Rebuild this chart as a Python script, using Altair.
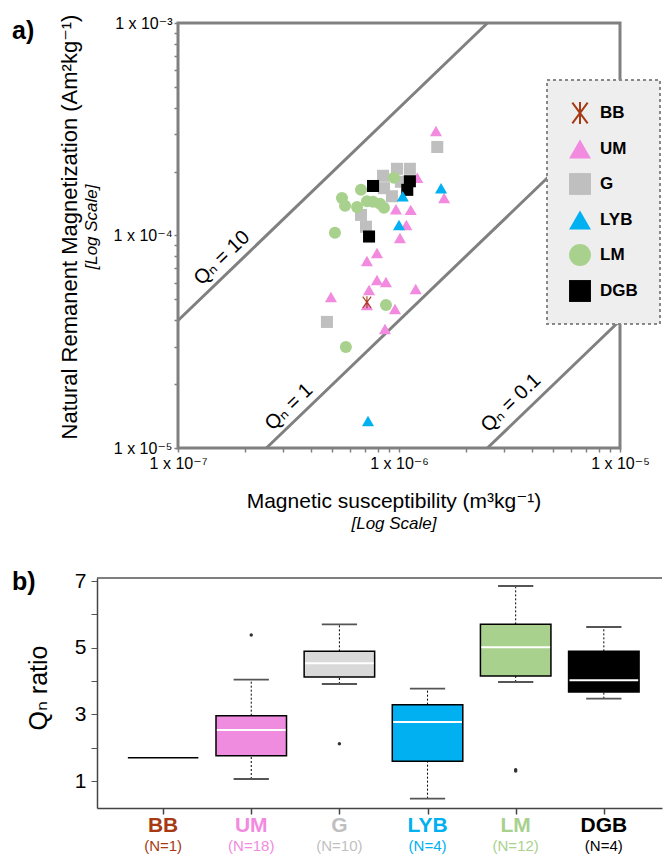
import altair as alt
import pandas as pd

FONT = "Liberation Sans, Arial, DejaVu Sans, sans-serif"
LINE_GRAY = "#808080"

# ---------------- Panel a data ----------------
groups = ["BB", "UM", "G", "LYB", "LM", "DGB"]
scatter_colors = ["#A63A14", "#F28AE0", "#BFBFBF", "#00B0F0", "#A9D18E", "#000000"]
ASTERISK = ("M-0.09,-1L0.09,-1L0.09,1L-0.09,1Z"
            "M-0.7725,-0.8966L-0.6275,-1.0034L0.7725,0.8966L0.6275,1.0034Z"
            "M-0.6275,1.0034L-0.7725,0.8966L0.6275,-1.0034L0.7725,-0.8966Z")
shapes = [ASTERISK, "triangle-up", "square", "triangle-up", "circle", "square"]

um_k = [1.47e-6, 1.21e-6, 1.60e-6, 9.69e-7, 1.13e-6, 1.08e-6, 1.01e-6, 7.95e-7, 7.16e-7,
        7.95e-7, 8.73e-7, 7.32e-7, 4.92e-7, 1.19e-6, 9.59e-7, 8.64e-7, 7.16e-7]
um_nrm = [3.10e-4, 1.87e-4, 1.50e-4, 1.33e-4, 1.32e-4, 1.12e-4, 9.73e-5, 8.27e-5, 7.59e-5,
          6.18e-5, 6.04e-5, 5.54e-5, 5.14e-5, 5.60e-5, 4.51e-5, 3.63e-5, 4.71e-5]
g_k = [1.49e-6, 9.79e-7, 1.12e-6, 8.47e-7, 8.55e-7, 1.02e-6, 9.29e-7, 6.73e-7, 7.09e-7, 4.72e-7]
g_nrm = [2.61e-4, 2.06e-4, 2.06e-4, 1.91e-4, 1.67e-4, 1.79e-4, 1.53e-4, 1.25e-4, 1.10e-4, 3.92e-5]
dgb_k = [7.63e-7, 1.12e-6, 1.09e-6, 7.32e-7]
dgb_nrm = [1.71e-4, 1.80e-4, 1.64e-4, 9.89e-5]
lm_k = [9.49e-7, 6.73e-7, 5.52e-7, 5.70e-7, 6.46e-7, 7.16e-7, 7.63e-7, 8.20e-7, 8.55e-7,
        5.13e-7, 8.73e-7, 5.75e-7]
lm_nrm = [1.87e-4, 1.64e-4, 1.50e-4, 1.38e-4, 1.36e-4, 1.45e-4, 1.44e-4, 1.41e-4, 1.35e-4,
          1.03e-4, 4.71e-5, 2.99e-5]
lyb_k = [1.04e-6, 1.55e-6, 1.00e-6, 7.24e-7]
lyb_nrm = [1.53e-4, 1.67e-4, 1.12e-4, 1.34e-5]
bb_k = [7.16e-7]
bb_nrm = [4.85e-5]

# Qn reference lines
q_values = [10, 1, 0.1]
q_texts = ["Q\u2099 = 10", "Q\u2099 = 1", "Q\u2099 = 0.1"]
q_text_k = [1.58e-7, 3.18e-7, 3.21e-6]
q_text_nrm = [7.84e-5, 1.56e-5, 1.63e-5]
H_FIELD = 39.8  # A/m

k_limits = [1e-7, 1e-5]
nrm_limits = [1e-5, 1e-3]
x_decades = [1e-7, 1e-6, 1e-5]
x_decade_labels = ["1 x 10\u207b\u2077", "1 x 10\u207b\u2076", "1 x 10\u207b\u2075"]
y_decades = [1e-5, 1e-4, 1e-3]
y_decade_labels = ["1 x 10\u207b\u2075", "1 x 10\u207b\u2074", "1 x 10\u207b\u00b3"]

# ---------------- Panel b data ----------------
box_groups = ["BB", "UM", "G", "LYB", "LM", "DGB"]
n_counts = [1, 18, 10, 4, 12, 4]
q1 = [1.70, 1.76, 4.12, 1.59, 4.15, 3.67]
med = [1.70, 2.53, 4.53, 2.77, 5.01, 4.02]
q3 = [1.70, 2.96, 4.89, 3.29, 5.70, 4.89]
wlo = [1.70, 1.06, 3.91, 0.47, 3.97, 3.47]
whi = [1.70, 4.04, 5.70, 3.77, 6.85, 5.62]
out_group = ["UM", "G", "LM", "LM"]
out_val = [5.38, 2.12, 1.30, 1.34]
box_fill = ["#8B4513", "#F08CE0", "#D9D9D9", "#00B0F0", "#A9D18E", "#000000"]
label_colors = ["#8B4513", "#F08CE0", "#A6A6A6", "#00B0F0", "#A9D18E", "#000000"]
y_ticks_b = [1, 2, 3, 4, 5, 6, 7]

# ---------------- layout (pixels) ----------------
W_A, H_A = 558, 425
DEC_PX = 221.0
EXTRA_L, EXTRA_R = 81, 35
W_B, H_B = 565, 230


def decade_expr(decades, labels):
    e = "''"
    for d, l in zip(decades[::-1], labels[::-1]):
        e = f"(abs(datum.value/{d!r} - 1) < 1e-6 ? '{l}' : {e})"
    return e


def txt(text, x, y, size, **kw):
    return alt.Chart(pd.DataFrame({"t": [text]})).mark_text(
        font=FONT, fontSize=size, color="black", **kw
    ).encode(x=alt.value(x), y=alt.value(y), text="t:N")


# ---------------- Panel a ----------------
x_dom = [10 ** (-7 - EXTRA_L / DEC_PX), 10 ** (-5 + EXTRA_R / DEC_PX)]
xs_a = alt.Scale(type="log", domain=x_dom, nice=False)
ys_a = alt.Scale(type="log", domain=nrm_limits, nice=False)

x_ticks = [m * 10.0 ** e for e in (-7, -6) for m in range(1, 10)] + [1e-5]
y_ticks = [m * 10.0 ** e for e in (-5, -4) for m in range(1, 10)] + [1e-3]

x_axis_a = alt.Axis(values=x_ticks, labelExpr=decade_expr(x_decades, x_decade_labels),
                    title=None, domain=False, grid=False, tickColor=LINE_GRAY, tickWidth=1.5,
                    tickSize=4, labelFont=FONT, labelFontSize=16, labelColor="black",
                    labelPadding=3, labelOverlap=False, labelFlush=False, labelBound=False)
y_axis_a = alt.Axis(values=y_ticks, labelExpr=decade_expr(y_decades, y_decade_labels),
                    title=None, domain=False, grid=False, tickColor=LINE_GRAY, tickWidth=1.5,
                    tickSize=4, labelFont=FONT, labelFontSize=16, labelColor="black",
                    labelPadding=2, labelOverlap=False, labelFlush=False, labelBound=False,
                    offset=-EXTRA_L)


def XA(f):
    return alt.X(f, type="quantitative", scale=xs_a, axis=x_axis_a)


def YA(f):
    return alt.Y(f, type="quantitative", scale=ys_a, axis=y_axis_a)


frame_df = pd.DataFrame({"x": [k_limits[0]], "x2": [k_limits[1]],
                         "y": [nrm_limits[0]], "y2": [nrm_limits[1]]})
frame = alt.Chart(frame_df).mark_rect(fillOpacity=0, stroke=LINE_GRAY, strokeWidth=3).encode(
    x=XA("x"), x2="x2", y=YA("y"), y2="y2")

line_rows = []
for q in q_values:
    k0 = max(k_limits[0], nrm_limits[0] / (q * H_FIELD))
    k1 = min(k_limits[1], nrm_limits[1] / (q * H_FIELD))
    line_rows.append({"q": str(q), "x": k0, "y": q * H_FIELD * k0})
    line_rows.append({"q": str(q), "x": k1, "y": q * H_FIELD * k1})
qlines = alt.Chart(pd.DataFrame(line_rows)).mark_line(color=LINE_GRAY, strokeWidth=3).encode(
    x=XA("x"), y=YA("y"), detail="q:N")

qtext = alt.Chart(pd.DataFrame({"t": q_texts, "x": q_text_k, "y": q_text_nrm})).mark_text(
    font=FONT, fontSize=20, angle=316, color="black").encode(x=XA("x"), y=YA("y"), text="t:N")

order = [("UM", um_k, um_nrm), ("G", g_k, g_nrm), ("DGB", dgb_k, dgb_nrm),
         ("LM", lm_k, lm_nrm), ("LYB", lyb_k, lyb_nrm), ("BB", bb_k, bb_nrm)]
pts_rows = []
for g, ks, ns in order:
    for k, n in zip(ks, ns):
        pts_rows.append({"group": g, "x": k, "y": n})
pts_df = pd.DataFrame(pts_rows)

leg = alt.Legend(title=None, orient="none", legendX=450, legendY=57, fillColor="#EEEEEE",
                 strokeColor="#888888", padding=22, symbolSize=480, labelFont=FONT,
                 labelFontSize=17, labelFontWeight="bold", labelColor="black", labelOffset=9,
                 rowPadding=14, symbolStrokeWidth=0, symbolOpacity=1)
points = alt.Chart(pts_df).mark_point(filled=True, size=145, opacity=1, strokeWidth=0).encode(
    x=XA("x"), y=YA("y"),
    color=alt.Color("group:N", scale=alt.Scale(domain=groups, range=scatter_colors), legend=leg),
    shape=alt.Shape("group:N", scale=alt.Scale(domain=groups, range=shapes), legend=leg),
)

chart_a = alt.layer(
    frame, qlines, qtext, points,
    txt("a)", -85, 8, 25, fontWeight="bold", align="left"),
    txt("Natural Remanent Magnetization (Am\u00b2kg\u207b\u00b9)", -27, 204, 22, angle=270),
    txt("[Log Scale]", -5, 204, 17, angle=270, fontStyle="italic"),
    txt("Magnetic susceptibility (m\u00b3kg\u207b\u00b9)", 297, 479, 21),
    txt("[Log Scale]", 297, 501, 17, fontStyle="italic"),
).properties(width=W_A, height=H_A)

# ---------------- Panel b ----------------
idx = {g: i for i, g in enumerate(box_groups)}
box_df = pd.DataFrame({"group": box_groups, "idx": list(range(len(box_groups))),
                       "q1": q1, "med": med, "q3": q3, "wlo": wlo, "whi": whi,
                       "n": [f"(N={n})" for n in n_counts]})
box_df["lo"] = box_df["idx"] - 0.4
box_df["hi"] = box_df["idx"] + 0.4
box_df["mlo"] = box_df["idx"] - 0.39
box_df["mhi"] = box_df["idx"] + 0.39
box_df["clo"] = box_df["idx"] - 0.2
box_df["chi"] = box_df["idx"] + 0.2
spread = box_df[box_df["q3"] > box_df["q1"]]

wh_rows, cap_rows = [], []
for _, r in spread.iterrows():
    wh_rows.append({"idx": r["idx"], "a": r["q3"], "b": r["whi"]})
    wh_rows.append({"idx": r["idx"], "a": r["wlo"], "b": r["q1"]})
    cap_rows.append({"clo": r["clo"], "chi": r["chi"], "v": r["whi"]})
    cap_rows.append({"clo": r["clo"], "chi": r["chi"], "v": r["wlo"]})
out_df = pd.DataFrame({"idx": [idx[g] for g in out_group], "v": out_val})

xs_b = alt.Scale(domain=[-0.75, 5.66], nice=False, zero=False)
ys_b = alt.Scale(domain=[0.19, 7.09], nice=False, zero=False)
x_axis_b = alt.Axis(values=list(range(6)), labels=False, title=None, grid=False, tickSize=6,
                    tickColor="#444444", tickWidth=1.5, domainColor="#444444", domainWidth=1.5)
y_axis_b = alt.Axis(values=y_ticks_b, labelExpr="datum.value % 2 == 1 ? datum.label : ''",
                    title=None, grid=False, tickSize=6, tickColor="#555555", tickWidth=1,
                    domainColor="#444444", domainWidth=1.5, labelFont=FONT, labelFontSize=21,
                    labelColor="black", labelPadding=5, labelOverlap=False)


def XB(f):
    return alt.X(f, type="quantitative", scale=xs_b, axis=x_axis_b)


def YB(f):
    return alt.Y(f, type="quantitative", scale=ys_b, axis=y_axis_b)


whiskers = alt.Chart(pd.DataFrame(wh_rows)).mark_rule(
    color="black", strokeWidth=1, strokeDash=[2, 2]).encode(x=XB("idx"), y=YB("a"), y2="b")
caps = alt.Chart(pd.DataFrame(cap_rows)).mark_rule(color="#555555", strokeWidth=1.8).encode(
    x=XB("clo"), x2="chi", y=YB("v"))
boxes = alt.Chart(box_df).mark_rect(stroke="black", strokeWidth=1.5).encode(
    x=XB("lo"), x2="hi", y=YB("q1"), y2="q3",
    fill=alt.Fill("group:N", scale=alt.Scale(domain=box_groups, range=box_fill), legend=None))
medians = alt.Chart(spread).mark_rule(color="white", strokeWidth=2).encode(
    x=XB("mlo"), x2="mhi", y=YB("med"))
outliers = alt.Chart(out_df).mark_point(filled=True, size=12, color="#333333", opacity=1).encode(
    x=XB("idx"), y=YB("v"))
lab_color = alt.Color("group:N", scale=alt.Scale(domain=box_groups, range=label_colors), legend=None)
names = alt.Chart(box_df).mark_text(font=FONT, fontSize=21, fontWeight="bold").encode(
    x=XB("idx"), y=alt.value(H_B + 18), text="group:N", color=lab_color)
ns = alt.Chart(box_df).mark_text(font=FONT, fontSize=15).encode(
    x=XB("idx"), y=alt.value(H_B + 38), text="n:N", color=lab_color)
top_border = alt.Chart(pd.DataFrame({"a": [0]})).mark_rule(color="#555555", strokeWidth=1.5).encode(
    x=alt.value(0), x2=alt.value(W_B), y=alt.value(0))

chart_b = alt.layer(
    top_border, whiskers, caps, boxes, medians, outliers, names, ns,
    txt("b)", -85, 4, 25, fontWeight="bold", align="left"),
    txt("Q\u2099 ratio", -58, 110, 25, angle=270),
).properties(width=W_B, height=H_B)

chart = alt.vconcat(chart_a, chart_b, spacing=38).properties(
    padding={"left": 12, "top": 14, "right": 0, "bottom": 0}
).configure_view(stroke=None).configure_legend(strokeDash=[3, 3], strokeWidth=2)

chart.save("out.html", embed_options={"renderer": "svg", "actions": False})
